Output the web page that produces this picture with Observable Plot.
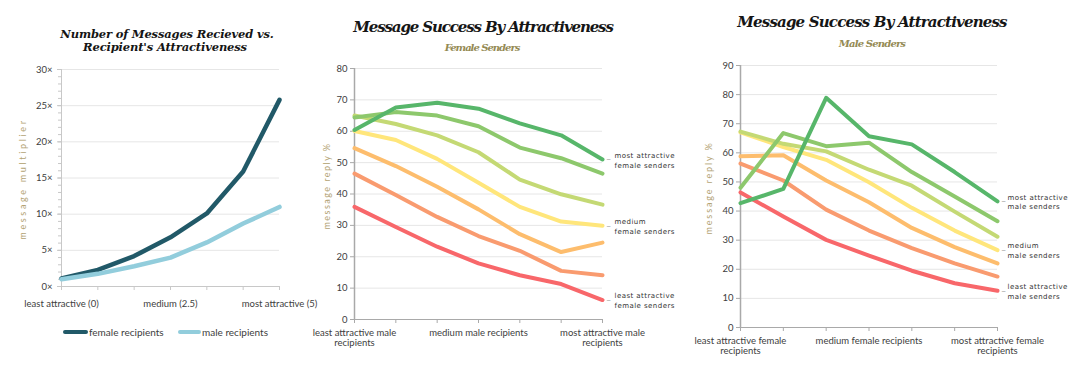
<!DOCTYPE html>
<html><head><meta charset="utf-8">
<script src="https://cdn.jsdelivr.net/npm/d3@7"></script>
<script src="https://cdn.jsdelivr.net/npm/@observablehq/plot@0.6"></script>
<style>
body{margin:0;background:#fff;}
#root{position:relative;width:1080px;height:368px;overflow:hidden;background:#fff;font-family:Lato,sans-serif;}
.abs{position:absolute;}
.title{font-family:"DejaVu Serif",serif;font-weight:bold;font-style:italic;color:#151515;white-space:nowrap;transform:translate(-50%,-50%);line-height:1;}
.sub{font-family:"DejaVu Serif",serif;font-weight:bold;font-style:italic;color:#948a54;white-space:nowrap;transform:translate(-50%,-50%);line-height:1;}
.leg{font-family:Lato,sans-serif;font-size:10px;color:#404040;white-space:nowrap;transform:translateY(-50%);line-height:1;}
.ytitle{font-family:Lato,sans-serif;font-size:9px;color:#b3a374;white-space:nowrap;transform:translate(-50%,-50%) rotate(-90deg);line-height:1;}
.sw{height:4px;transform:translateY(-50%);}
</style></head><body><div id="root"></div>
<script>
// ---------- data ----------
const positions = [0, 1, 2, 3, 4, 5, 6];

// Panel 1: number of messages received vs recipient's attractiveness
const p1Title = ["Number of Messages Recieved  vs.", "Recipient's Attractiveness"];
const p1XLabels = ["least attractive (0)", "", "", "medium (2.5)", "", "", "most attractive (5)"];
const p1YTicks = [0, 5, 10, 15, 20, 25, 30];
const femaleRecipients = [1.1, 2.3, 4.2, 6.8, 10.1, 15.9, 25.8];
const maleRecipients = [1.0, 1.75, 2.8, 4.0, 6.1, 8.7, 11.0];
const p1SeriesNames = ["female recipients", "male recipients"];
const p1Colors = ["#215968", "#92cddc"];

// Panels 2 and 3: message success by attractiveness (7 sender levels, least -> most)
const senderLevels = ["level 1", "level 2", "level 3", "level 4", "level 5", "level 6", "level 7"];
const levelColors = ["#f8676a", "#f99b6f", "#fdbd6d", "#ffe67b", "#c4d974", "#8dc86c", "#57b66a"];

const p2XLabels = ["least attractive male\nrecipients", "", "", "medium male recipients", "", "", "most attractive male\nrecipients"];
const p2YTicks = [0, 10, 20, 30, 40, 50, 60, 70, 80];
const femaleSenders = [
  [35.9, 29.5, 23.2, 17.9, 14.1, 11.3, 6.2],
  [46.5, 39.7, 32.7, 26.6, 21.9, 15.5, 14.1],
  [54.6, 48.9, 42.3, 35.1, 27.2, 21.5, 24.5],
  [60.1, 57.2, 51.2, 43.6, 35.9, 31.2, 29.9],
  [65.0, 62.3, 58.7, 53.3, 44.6, 39.9, 36.6],
  [64.4, 66.1, 65.0, 61.6, 54.8, 51.4, 46.5],
  [60.4, 67.6, 69.1, 67.2, 62.5, 58.7, 51.0]
];
const p2EndLabels = ["least attractive\nfemale senders", "medium\nfemale senders", "most attractive\nfemale senders"];

const p3XLabels = ["least attractive female\nrecipients", "", "", "medium female recipients", "", "", "most attractive female\nrecipients"];
const p3YTicks = [0, 10, 20, 30, 40, 50, 60, 70, 80, 90];
const maleSenders = [
  [46.4, 38.1, 30.1, 24.7, 19.5, 15.2, 12.6],
  [56.3, 50.5, 40.5, 33.3, 27.3, 22.0, 17.5],
  [58.8, 59.2, 50.5, 43.0, 34.2, 27.6, 22.0],
  [67.0, 62.0, 57.6, 49.9, 41.1, 33.3, 26.6],
  [67.3, 63.1, 60.5, 54.2, 48.7, 39.8, 31.2],
  [48.0, 66.8, 62.3, 63.5, 53.4, 45.0, 36.5],
  [42.7, 47.6, 78.9, 65.7, 62.9, 53.4, 43.3]
];
const p3EndLabels = ["least attractive\nmale senders", "medium\nmale senders", "most attractive\nmale senders"];
const labelledLevels = [0, 3, 6];
const replyTitle = "message reply %";
const multTitle = "message multiplier";

// ---------- helpers ----------
const root = document.getElementById("root");
function longForm(arrs, names) {
  return arrs.flatMap((vals, s) => vals.map((v, i) => ({s: names[s], i, v})));
}
function addDiv(text, cls, x, y, size, targetW) {
  const d = document.createElement("div");
  d.className = "abs " + cls;
  d.textContent = text;
  d.style.left = x + "px";
  d.style.top = y + "px";
  if (size) d.style.fontSize = size + "px";
  root.appendChild(d);
  if (targetW) {
    const w = d.offsetWidth;
    d.style.letterSpacing = ((targetW - w) / text.length) + "px";
  }
  return d;
}
function place(svg, left, top) {
  svg.style.position = "absolute";
  svg.style.left = left + "px";
  svg.style.top = top + "px";
  root.appendChild(svg);
}
const baseStyle = {background: "transparent", fontFamily: "Lato, sans-serif", fontSize: "9.5px", color: "#404040", overflow: "visible"};
const gridColor = "#e6e6e6";
const axisColor = "#a9a9a9";

// ---------- panel 1 ----------
const p1Data = longForm([femaleRecipients, maleRecipients], p1SeriesNames);
const p1 = Plot.plot({
  width: 300, height: 368,
  marginLeft: 61, marginRight: 21, marginTop: 69, marginBottom: 82,
  style: baseStyle,
  x: {domain: [0, 6], axis: null},
  y: {domain: [0, 30], axis: null},
  color: {domain: p1SeriesNames, range: p1Colors},
  marks: [
    Plot.gridY(p1YTicks.filter(d => d > 0), {stroke: gridColor, strokeOpacity: 1}),
    Plot.axisY(d3.range(0, 31), {tickSize: 3, tickFormat: () => "", stroke: "#c8c8c8", label: null}),
    Plot.axisY(p1YTicks, {tickSize: 4, tickPadding: 5, tickFormat: d => d + "\u00d7", stroke: "#c8c8c8", label: null, fill: "#404040"}),
    Plot.axisX(positions, {tickSize: 4, tickPadding: 10, tickFormat: i => p1XLabels[i], stroke: "#c8c8c8", label: null, fill: "#404040"}),
    Plot.ruleX([0], {stroke: "#c8c8c8"}),
    Plot.ruleY([0], {stroke: "#c8c8c8"}),
    Plot.line(p1Data, {x: "i", y: "v", z: "s", stroke: "s", strokeWidth: 4.5})
  ]
});
place(p1, 0, 0);

addDiv(p1Title[0], "title", 167, 35, 11.5, 213);
addDiv(p1Title[1], "title", 165, 48, 11.5, 164);
addDiv(multTitle, "ytitle", 22, 179, 9, 122);

// legend for panel 1
function legendItem(x0, x1, color, label) {
  const s = document.createElement("div");
  s.className = "abs sw";
  s.style.left = x0 + "px"; s.style.top = "332px";
  s.style.width = (x1 - x0) + "px"; s.style.background = color; s.style.borderRadius = "2px";
  root.appendChild(s);
  addDiv(label, "leg", x1 + 1, 332);
}
legendItem(63, 88, p1Colors[0], p1SeriesNames[0]);
legendItem(178, 201, p1Colors[1], p1SeriesNames[1]);

// ---------- panels 2 & 3 ----------
function successPanel(series, xLabels, yTicks, yMax, endLabels, m, w, labelDx) {
  const data = longForm(series, senderLevels);
  const ends = labelledLevels.map((lv, k) => ({i: 6, v: series[lv][6], t: endLabels[k]}));
  return Plot.plot({
    width: w, height: 368,
    marginLeft: m[0], marginRight: m[1], marginTop: m[2], marginBottom: m[3],
    style: baseStyle,
    x: {domain: [0, 6], axis: null},
    y: {domain: [0, yMax], axis: null},
    color: {domain: senderLevels, range: levelColors},
    marks: [
      Plot.gridY(yTicks.filter(d => d > 0), {stroke: gridColor, strokeOpacity: 1}),
      Plot.axisY(yTicks, {tickSize: 4, tickPadding: 3, stroke: axisColor, label: null, fill: "#404040"}),
      Plot.axisX(positions, {tickSize: 4, tickPadding: 5, tickFormat: i => xLabels[i], stroke: axisColor, label: null, lineHeight: 1.05, fill: "#404040"}),
      Plot.ruleX([0], {stroke: axisColor, strokeWidth: 1.5}),
      Plot.ruleY([0], {stroke: axisColor}),
      Plot.line(data, {x: "i", y: "v", z: "s", stroke: "s", strokeWidth: 4}),
      Plot.text(ends, {x: "i", y: "v", text: () => "\u2013", dx: 6, fill: "#a8a8a8", fontSize: 9}),
      Plot.text(ends, {x: "i", y: "v", text: "t", dx: labelDx, textAnchor: "start", lineHeight: 1.4, fontSize: 7, fontFamily: "DejaVu Sans", fill: "#333"})
    ]
  });
}

const p2 = successPanel(femaleSenders, p2XLabels, p2YTicks, 80, p2EndLabels, [54, 88, 68, 49], 390, 12);
d3.select(p2).selectAll("text").filter(function() { return /senders/.test(this.textContent); }).style("letter-spacing", "0.45px");
place(p2, 300, 0);
addDiv("Message Success By Attractiveness", "title", 483, 27, 15, 260);
addDiv("Female Senders", "sub", 482, 48, 10, 75);
addDiv(replyTitle, "ytitle", 326, 186, 9, 87);

const p3 = successPanel(maleSenders, p3XLabels, p3YTicks, 90, p3EndLabels, [50, 83, 65, 41], 390, 10);
d3.select(p3).selectAll("text").filter(function() { return /senders/.test(this.textContent); }).style("letter-spacing", "0.45px");
place(p3, 690, 0);
addDiv("Message Success By Attractiveness", "title", 872, 22, 15, 270);
addDiv("Male Senders", "sub", 872, 44, 10, 66);
addDiv(replyTitle, "ytitle", 708, 188, 9, 93);
</script>
</body></html>
